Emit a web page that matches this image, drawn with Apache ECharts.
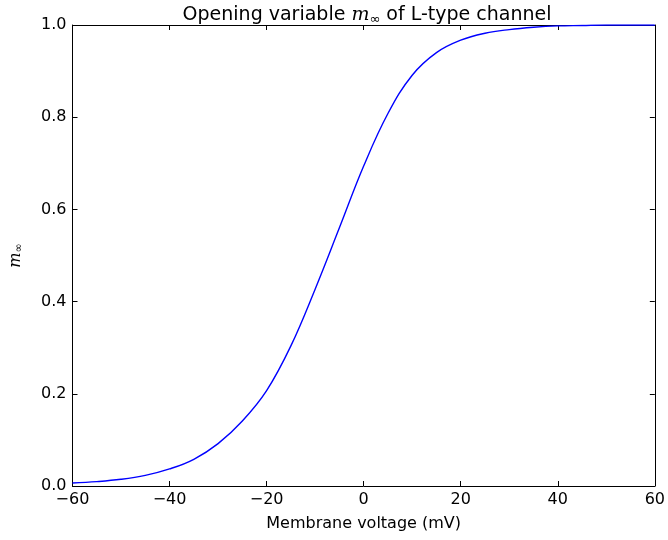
<!DOCTYPE html>
<html>
<head>
<meta charset="utf-8">
<script src="https://cdn.jsdelivr.net/npm/echarts@6/dist/echarts.min.js"></script>
<style>html,body{margin:0;padding:0;background:#fff;}#c{width:668px;height:540px;}</style>
</head>
<body>
<div id="c"></div>
<script>
const voltages = [-60,-55,-50,-45,-40,-35,-30,-25,-20,-15,-10,-5,0,5,10,15,20,25,30,35,40,45,50,55,60];
const mInf = [0.0065,0.0095,0.0145,0.023,0.037,0.058,0.092,0.141,0.207,0.304,0.427,0.560,0.694,0.808,0.891,0.940,0.967,0.982,0.990,0.995,0.998,0.999,1.0,1.0,1.0];
const xTicks = [-60,-40,-20,0,20,40,60];
const yTicks = [0.0,0.2,0.4,0.6,0.8,1.0];

const FONT = 'DejaVu Sans';
const data = voltages.map((v,i)=>[v,mInf[i]]);
const chart = echarts.init(document.getElementById('c'), null, {renderer:'canvas'});
const axisLine = {show:true, onZero:false, lineStyle:{color:'#000', width:1}};
const tick = {show:true, inside:true, length:5, lineStyle:{color:'#000', width:1}};
chart.setOption({
  animation:false,
  backgroundColor:'#fff',
  title:{
    text:'Opening variable {m|m}{s|∞} of L-type channel',
    left:362, textAlign:'center', top:0,
    textStyle:{fontFamily:FONT, fontSize:19, fontWeight:'normal', color:'#000',
      rich:{
        m:{fontFamily:'DejaVu Serif', fontStyle:'italic', fontSize:19, color:'#000'},
        s:{fontFamily:'DejaVu Sans', fontSize:13, color:'#000', padding:[8,0,0,0]}
      }}
  },
  grid:{left:64, right:7, top:25, bottom:54, containLabel:false},
  xAxis:[{
    type:'value', min:-60, max:60, interval:20, position:'bottom',
    name:'Membrane voltage (mV)', nameLocation:'middle', nameGap:30,
    nameTextStyle:{fontFamily:FONT, fontSize:16, color:'#000'},
    axisLine:axisLine, axisTick:tick, splitLine:{show:false},
    axisLabel:{fontFamily:FONT, fontSize:16, color:'#000', margin:6,
      formatter:v=> xTicks.includes(v) ? String(v).replace('-','\u2212') : ''}
  },{
    type:'value', min:-60, max:60, interval:20, position:'top',
    axisLine:axisLine, axisTick:tick, axisLabel:{show:false}, splitLine:{show:false}
  }],
  yAxis:[{
    type:'value', min:0, max:1, interval:0.2, position:'left',
    name:'{m|m}{s|∞}', nameLocation:'middle', nameGap:48, nameRotate:90,
    nameTextStyle:{rich:{
      m:{fontFamily:'DejaVu Serif', fontStyle:'italic', fontSize:16, color:'#000'},
      s:{fontFamily:'DejaVu Sans', fontSize:11, color:'#000', padding:[6,0,0,0]}
    }},
    axisLine:axisLine, axisTick:tick, splitLine:{show:false},
    axisLabel:{fontFamily:FONT, fontSize:16, color:'#000', margin:6,
      formatter:v=> yTicks.some(t=>Math.abs(t-v)<1e-9) ? v.toFixed(1) : ''}
  },{
    type:'value', min:0, max:1, interval:0.2, position:'right',
    axisLine:axisLine, axisTick:tick, axisLabel:{show:false}, splitLine:{show:false}
  }],
  series:[{
    type:'line', data:data, smooth:0.4, showSymbol:false, symbol:'none',
    xAxisIndex:0, yAxisIndex:0, clip:true,
    lineStyle:{color:'#0000ff', width:1.4}
  }]
});
</script>
</body>
</html>
